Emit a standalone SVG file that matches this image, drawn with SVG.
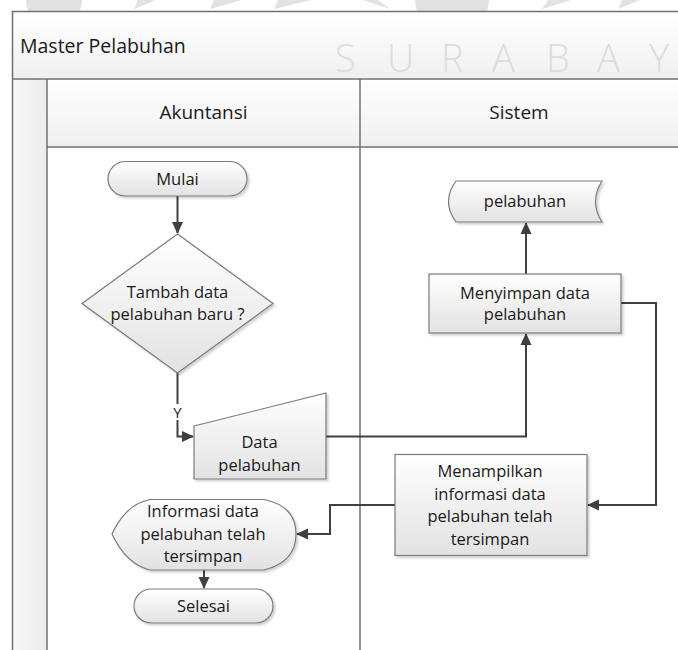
<svg xmlns="http://www.w3.org/2000/svg" width="678" height="650" viewBox="0 0 678 650">
  <defs>
    <linearGradient id="gShape" x1="0" y1="0" x2="0" y2="1">
      <stop offset="0" stop-color="#ffffff"/>
      <stop offset="1" stop-color="#e2e2e2"/>
    </linearGradient>
    <linearGradient id="gBand" x1="0" y1="0" x2="0" y2="1">
      <stop offset="0" stop-color="#ffffff"/>
      <stop offset="1" stop-color="#f0f0f0"/>
    </linearGradient>
    <linearGradient id="gStrip" x1="0" y1="0" x2="1" y2="0">
      <stop offset="0" stop-color="#f8f8f8"/>
      <stop offset="1" stop-color="#ececec"/>
    </linearGradient>
    <filter id="shadow" x="-10%" y="-10%" width="130%" height="130%">
      <feDropShadow dx="2" dy="2" stdDeviation="1" flood-color="#000000" flood-opacity="0.18"/>
    </filter>
    <marker id="arrow" markerWidth="12" markerHeight="12" viewBox="0 0 12 12" refX="11" refY="6" orient="auto" markerUnits="userSpaceOnUse">
      <path d="M0,0.5 L12,6 L0,11.5 Z" fill="#404040"/>
    </marker>
    <style>
      .shape { fill: url(#gShape); stroke: #7a7a7a; stroke-width: 1.2; filter: url(#shadow); }
      .frame { stroke: #707070; stroke-width: 1.5; fill: none; }
      .conn { fill: none; stroke: #404040; stroke-width: 2; }
      .arr { marker-end: url(#arrow); }
      text { font-family: "Open Sans", "Liberation Sans", sans-serif; fill: #1a1a1a; }
      .t { font-size: 16.5px; text-anchor: middle; }
      .h { font-size: 19px; text-anchor: middle; }
      .wm { fill: #e2e2e2; }
    </style>
  </defs>

  <rect width="678" height="650" fill="#ffffff"/>

  <!-- faint logo fragments along the top edge -->
  <g id="logo-marks" class="wm">
    <path d="M26,0 A28,28 0 0 0 82,0 Z"/>
    <path d="M138,0 L156,0 L134,9 Z"/>
    <path d="M214,0 L242,0 L210,9 Z"/>
    <path d="M278,0 L311,0 L274,9 Z"/>
    <path d="M363,0 L378,0 L390,9 Z"/>
    <path d="M415,0 A37,37 0 0 0 489,0 Z"/>
    <path d="M548,0 L571,0 L542,9 Z"/>
    <path d="M622,0 L640,0 L618,9 Z"/>
  </g>

  <!-- pool frame, title band and lane headers -->
  <g id="pool">
    <rect x="12.5" y="11.5" width="700" height="67.5" fill="url(#gBand)"/>
    <rect x="12.5" y="79" width="34.5" height="580" fill="url(#gStrip)"/>
    <rect x="47" y="79" width="660" height="68" fill="url(#gBand)"/>
    <rect x="47" y="147" width="660" height="510" fill="#ffffff"/>
    <text y="72" font-size="38" font-weight="300" style="fill:#dcdcdc">
      <tspan x="335">S</tspan><tspan x="387">U</tspan><tspan x="441">R</tspan><tspan x="492">A</tspan><tspan x="546">B</tspan><tspan x="597">A</tspan><tspan x="649">Y</tspan>
    </text>
    <path class="frame" d="M700,11.5 H12.5 V660"/>
    <path class="frame" d="M12.5,79 H700"/>
    <path class="frame" d="M47,79 V660"/>
    <path class="frame" d="M47,147 H700"/>
    <path class="frame" d="M360,79 V660"/>
    <text x="20" y="53" font-size="19.5">Master Pelabuhan</text>
    <text class="h" x="203.5" y="119">Akuntansi</text>
    <text class="h" x="519" y="119">Sistem</text>
  </g>

  <!-- connectors -->
  <g id="connectors">
    <path class="conn arr" d="M177.5,196 V233"/>
    <path class="conn arr" d="M177.5,373 V436.5 H193"/>
    <path class="conn arr" d="M326,436.5 H526 V334"/>
    <path class="conn arr" d="M526,274 V223"/>
    <path class="conn arr" d="M621,303 H656 V505 H588"/>
    <path class="conn arr" d="M395,505 H330 V534 H297"/>
    <path class="conn arr" d="M204,570 V588"/>
    <rect x="172" y="404" width="11" height="16" fill="#ffffff"/>
    <text x="177.5" y="418" font-size="15" text-anchor="middle">Y</text>
  </g>

  <g id="mulai">
    <rect class="shape" x="108" y="161.5" width="139" height="34.5" rx="17.25"/>
    <text class="t" x="177.5" y="184.5">Mulai</text>
  </g>

  <g id="tambah-data">
    <path class="shape" d="M177.5,234 L273,303.5 L177.5,373 L82,303.5 Z"/>
    <text class="t" x="177.5" y="298">Tambah data</text>
    <text class="t" x="177.5" y="320">pelabuhan baru ?</text>
  </g>

  <g id="data-pelabuhan">
    <path class="shape" d="M194,426 L326,393 L326,479 L194,479 Z"/>
    <text class="t" x="259.5" y="448">Data</text>
    <text class="t" x="259.5" y="470.5">pelabuhan</text>
  </g>

  <g id="menyimpan">
    <rect class="shape" x="429" y="274" width="192" height="59"/>
    <text class="t" x="525" y="298.5">Menyimpan data</text>
    <text class="t" x="525" y="320">pelabuhan</text>
  </g>

  <g id="pelabuhan-store">
    <path class="shape" d="M456,181 L602,181 Q589,201.5 602,222 L456,222 Q441,201.5 456,181 Z"/>
    <text class="t" x="525" y="207">pelabuhan</text>
  </g>

  <g id="menampilkan">
    <rect class="shape" x="395" y="454.5" width="192" height="101"/>
    <text class="t" x="490" y="477">Menampilkan</text>
    <text class="t" x="490" y="499.5">informasi data</text>
    <text class="t" x="490" y="522">pelabuhan telah</text>
    <text class="t" x="490" y="545">tersimpan</text>
  </g>

  <g id="informasi">
    <path class="shape" d="M112,534 Q126,504 150,499.5 L264,499.5 Q296,506 296,534 Q296,562 264,570 L150,570 Q126,564 112,534 Z"/>
    <text class="t" x="203" y="517">Informasi data</text>
    <text class="t" x="203" y="539.5">pelabuhan telah</text>
    <text class="t" x="203" y="562">tersimpan</text>
  </g>

  <g id="selesai">
    <rect class="shape" x="134" y="589" width="139" height="34" rx="17"/>
    <text class="t" x="203.5" y="612">Selesai</text>
  </g>
</svg>
